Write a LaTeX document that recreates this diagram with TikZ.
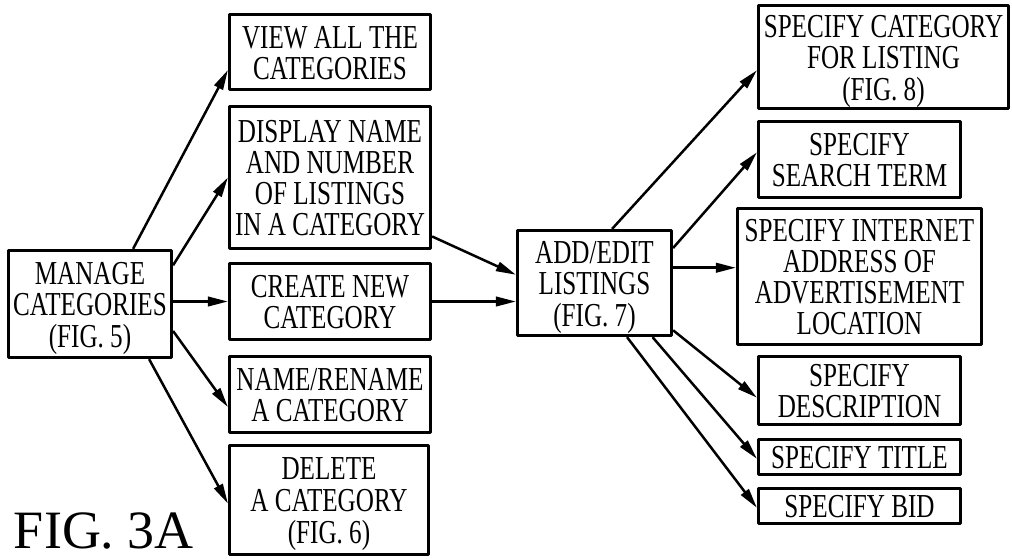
\documentclass[tikz,border=0pt]{standalone}
\usepackage{fontspec}
\usepackage{graphicx}
\setmainfont{Liberation Serif}
\usetikzlibrary{arrows.meta, calc}

\begin{document}
\begin{tikzpicture}[x=1pt, y=-1pt, >={Triangle[length=20pt, width=9.5pt]}, line join=round]
	\tikzset{
		blk/.style={draw, line width=3.2pt, inner sep=2pt, align=center, font=\fontsize{33.5}{29.5}\selectfont},
		arr/.style={->, line width=2.5pt}
	}
	
	\newcommand{\blocknode}[6]{% name, x, y, w, h, text
		\node[blk, minimum width=#4pt, minimum height=#5pt] (#1) at (#2,#3)
			{\raisebox{-5pt}[\height][\depth]{\scalebox{0.75}[1]{\begin{tabular}{@{}c@{}}#6\end{tabular}}}};
	}
	
	\useasboundingbox (0,0) rectangle (1012,558);
	
	% categories side
	\blocknode{manage}{90}{304}{163}{107}{MANAGE\\CATEGORIES\\(FIG. 5)}
	\blocknode{view}{330}{52}{201}{75}{VIEW ALL THE\\CATEGORIES}
	\blocknode{display}{330}{177.5}{201}{142}{DISPLAY NAME\\AND NUMBER\\OF LISTINGS\\IN A CATEGORY}
	\blocknode{create}{330}{301.5}{201}{76}{CREATE NEW\\CATEGORY}
	\blocknode{rename}{330}{394.5}{201}{76}{NAME/RENAME\\A CATEGORY}
	\blocknode{delete}{329}{500}{199}{109}{DELETE\\A CATEGORY\\(FIG. 6)}
	
	% listings side
	\blocknode{listings}{594.5}{283}{154}{105}{ADD/EDIT\\LISTINGS\\(FIG. 7)}
	\blocknode{catfor}{883.5}{57}{250}{103}{SPECIFY CATEGORY\\FOR LISTING\\(FIG. 8)}
	\blocknode{search}{859.5}{159.5}{202}{76}{SPECIFY\\SEARCH TERM}
	\blocknode{address}{859.5}{276.5}{244}{136}{SPECIFY INTERNET\\ADDRESS OF\\ADVERTISEMENT\\LOCATION}
	\blocknode{descr}{859.5}{390.5}{202}{68}{SPECIFY\\DESCRIPTION}
	\blocknode{title}{859.5}{457}{202}{35}{SPECIFY TITLE}
	\blocknode{bid}{859.5}{506}{202}{35}{SPECIFY BID}
	
	\node[font=\fontsize{54}{54}\selectfont, inner sep=0pt, anchor=base] (figlabel) at (104,548) {FIG. 3A};
	
	\draw[arr] (manage.52) -- (view.190);
	\draw[arr] (manage.25) -- (display.west);
	\draw[arr] (manage.east |- create.west) -- (create.west);
	\draw[arr] (manage.342.6) -- (rename.187.5);
	\draw[arr] (manage.317.5) -- (delete.182);
	
	\draw[arr] (display.330.6) -- (listings.174);
	\draw[arr] (create.east) -- (create.east -| listings.west);
	
	\draw[arr] (listings.72) -- (catfor.186);
	\draw[arr] (listings.24.6) -- (search.176.4);
	\draw[arr] (listings.11.5) -- (listings.11.5 -| address.west);
	\draw[arr] (listings.329.1) -- (descr.184.2);
	\draw[arr] (listings.317.3) -- (title.181.7);
	\draw[arr] (listings.301.8) -- (bid.181.7);
	
\end{tikzpicture}
\end{document}
